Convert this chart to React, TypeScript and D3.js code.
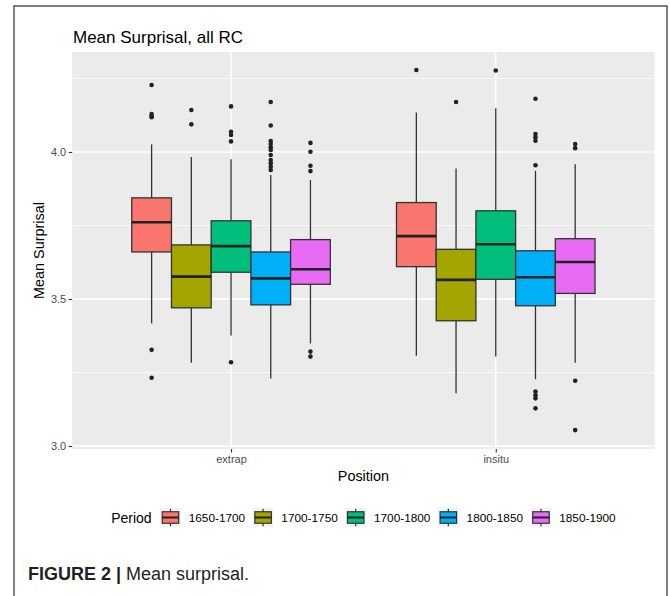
import React, { useEffect, useRef } from "react";
import * as d3 from "d3";

const positions = ["extrap", "insitu"];
const periods = ["1650-1700", "1700-1750", "1700-1800", "1800-1850", "1850-1900"];
const periodColors = ["#F8766D", "#A3A500", "#00BF7D", "#00B0F6", "#E76BF3"];

// [lower whisker, q1, median, q3, upper whisker], one row per period
const extrapBoxes = [
    [3.417, 3.660, 3.761, 3.844, 4.026],
    [3.283, 3.470, 3.576, 3.684, 3.983],
    [3.376, 3.591, 3.680, 3.766, 3.975],
    [3.230, 3.480, 3.570, 3.660, 3.922],
    [3.349, 3.550, 3.601, 3.702, 3.905]
];
const insituBoxes = [
    [3.307, 3.610, 3.714, 3.828, 4.134],
    [3.179, 3.426, 3.565, 3.669, 3.944],
    [3.304, 3.567, 3.686, 3.800, 4.149],
    [3.227, 3.477, 3.574, 3.664, 3.936],
    [3.283, 3.519, 3.626, 3.705, 3.958]
];
const extrapOutliers = [
    [4.228, 4.129, 4.122, 4.118, 3.327, 3.232],
    [4.143, 4.094],
    [4.155, 4.069, 4.058, 4.036, 3.285],
    [4.170, 4.090, 4.037, 4.027, 4.016, 4.007, 3.990, 3.973, 3.962, 3.950, 3.939],
    [4.031, 4.001, 3.953, 3.935, 3.321, 3.304]
];
const insituOutliers = [
    [4.279],
    [4.170],
    [4.277],
    [4.181, 4.061, 4.050, 4.038, 3.955, 3.185, 3.173, 3.162, 3.128],
    [4.027, 4.013, 3.222, 3.054]
];
const yTicks = [3.0, 3.5, 4.0];
const yMinorTicks = [3.25, 3.75, 4.25];

const FONT = "'Liberation Sans', Arial, sans-serif";

function App()
{
    const svgRef = useRef<SVGSVGElement>(null);

    useEffect(() =>
    {
        const svg = d3.select(svgRef.current);
        svg.selectAll("*").remove();

        const panel = {left: 72.2, right: 654.6, top: 52, bottom: 449};
        const w = panel.right - panel.left;
        const h = panel.bottom - panel.top;

        // outer figure frame
        svg.append("rect")
            .attr("x", 14).attr("y", 6)
            .attr("width", 653).attr("height", 620)
            .attr("fill", "none")
            .attr("stroke", "#555")
            .attr("stroke-width", 1.5);

        svg.append("text")
            .attr("x", 73).attr("y", 43)
            .attr("font-family", FONT)
            .attr("font-size", 17)
            .attr("fill", "#000")
            .text("Mean Surprisal, all RC");

        const g = svg.append("g").attr("transform", `translate(${panel.left}, ${panel.top})`);

        // scales
        const xScale = d3.scalePoint<string>()
            .domain(positions)
            .range([0, w])
            .padding(0.6);
        const step = xScale.step();
        const dodge = d3.scaleBand<string>()
            .domain(periods)
            .range([-0.375 * step, 0.375 * step]);
        const yScale = d3.scaleLinear()
            .domain([2.9898, 4.3401])
            .range([h, 0]);

        // panel + grid
        g.append("rect").attr("width", w).attr("height", h).attr("fill", "#EBEBEB");
        g.selectAll(".minor")
            .data(yMinorTicks)
            .enter()
            .append("line")
            .attr("x1", 0).attr("x2", w)
            .attr("y1", d => yScale(d)).attr("y2", d => yScale(d))
            .attr("stroke", "#fff").attr("stroke-width", 0.7);
        g.selectAll(".major")
            .data(yTicks)
            .enter()
            .append("line")
            .attr("x1", 0).attr("x2", w)
            .attr("y1", d => yScale(d)).attr("y2", d => yScale(d))
            .attr("stroke", "#fff").attr("stroke-width", 1.4);
        g.selectAll(".xmajor")
            .data(positions)
            .enter()
            .append("line")
            .attr("x1", d => xScale(d)!).attr("x2", d => xScale(d)!)
            .attr("y1", 0).attr("y2", h)
            .attr("stroke", "#fff").attr("stroke-width", 1.4);

        // axes
        const yAxis = g.append("g")
            .call(d3.axisLeft(yScale).tickValues(yTicks).tickFormat(d3.format(".1f")).tickSize(3.5).tickPadding(2.5));
        const xAxis = g.append("g")
            .attr("transform", `translate(0, ${h})`)
            .call(d3.axisBottom(xScale).tickSize(3.5).tickPadding(2.5));
        [yAxis, xAxis].forEach(ax =>
        {
            ax.select(".domain").remove();
            ax.selectAll("line").attr("stroke", "#333").attr("stroke-width", 1.1);
            ax.selectAll("text")
                .attr("font-family", FONT)
                .attr("font-size", 11)
                .attr("fill", "#4D4D4D");
        });

        svg.append("text")
            .attr("x", (panel.left + panel.right) / 2).attr("y", 481)
            .attr("text-anchor", "middle")
            .attr("font-family", FONT).attr("font-size", 14.4)
            .text("Position");
        svg.append("text")
            .attr("transform", `translate(44, ${(panel.top + panel.bottom) / 2}) rotate(-90)`)
            .attr("text-anchor", "middle")
            .attr("font-family", FONT).attr("font-size", 14.4)
            .text("Mean Surprisal");

        // boxes
        const boxW = dodge.bandwidth();
        const groups = [
            {pos: "extrap", boxes: extrapBoxes, outliers: extrapOutliers},
            {pos: "insitu", boxes: insituBoxes, outliers: insituOutliers}
        ];
        groups.forEach(grp =>
        {
            periods.forEach((p, i) =>
            {
                const [lo, q1, med, q3, hi] = grp.boxes[i];
                const cx = xScale(grp.pos)! + dodge(p)! + boxW / 2;
                g.append("line")
                    .attr("x1", cx).attr("x2", cx)
                    .attr("y1", yScale(hi)).attr("y2", yScale(lo))
                    .attr("stroke", "#333").attr("stroke-width", 1.3);
                g.append("rect")
                    .attr("x", cx - boxW / 2).attr("width", boxW)
                    .attr("y", yScale(q3)).attr("height", yScale(q1) - yScale(q3))
                    .attr("fill", periodColors[i])
                    .attr("stroke", "#333").attr("stroke-width", 1.3);
                g.append("line")
                    .attr("x1", cx - boxW / 2).attr("x2", cx + boxW / 2)
                    .attr("y1", yScale(med)).attr("y2", yScale(med))
                    .attr("stroke", "#222").attr("stroke-width", 2.6);
                g.selectAll(null)
                    .data(grp.outliers[i])
                    .enter()
                    .append("circle")
                    .attr("cx", cx)
                    .attr("cy", d => yScale(d))
                    .attr("r", 2.3)
                    .attr("fill", "#222");
            });
        });

        // legend
        const legendY = 517.5;
        const legend = svg.append("g");
        const title = legend.append("text")
            .attr("x", 0).attr("y", legendY + 5)
            .attr("font-family", FONT).attr("font-size", 14)
            .text("Period");
        let x = (title.node() as SVGTextElement).getComputedTextLength() + 8.6;
        const keyW = 20.5, keyH = 19.5;
        periods.forEach((p, i) =>
        {
            const k = legend.append("g").attr("transform", `translate(${x}, ${legendY - keyH / 2})`);
            k.append("rect").attr("width", keyW).attr("height", keyH).attr("fill", "#F2F2F2");
            k.append("line")
                .attr("x1", keyW / 2).attr("x2", keyW / 2)
                .attr("y1", 1).attr("y2", keyH - 1)
                .attr("stroke", "#333").attr("stroke-width", 1.2);
            k.append("rect")
                .attr("x", 2).attr("y", 4)
                .attr("width", keyW - 4).attr("height", keyH - 8)
                .attr("fill", periodColors[i])
                .attr("stroke", "#333").attr("stroke-width", 1.2);
            k.append("line")
                .attr("x1", 2).attr("x2", keyW - 2)
                .attr("y1", keyH / 2).attr("y2", keyH / 2)
                .attr("stroke", "#222").attr("stroke-width", 2);
            x += keyW + 8;
            const t = legend.append("text")
                .attr("x", x).attr("y", legendY + 4)
                .attr("font-family", FONT).attr("font-size", 11.8)
                .text(p);
            x += (t.node() as SVGTextElement).getComputedTextLength() + 7.7;
        });
        const legendW = x - 7.7;
        legend.attr("transform", `translate(${(panel.left + panel.right) / 2 - legendW / 2}, 0)`);

        // caption
        const cap = svg.append("text")
            .attr("x", 28).attr("y", 580)
            .attr("font-family", FONT).attr("font-size", 18)
            .attr("fill", "#231F20");
        cap.append("tspan").attr("font-weight", "bold").text("FIGURE 2 |");
        cap.append("tspan").text(" Mean surprisal.");
    }, []);

    return (
        <svg ref={svgRef} width={670} height={596}
            style={{position: "absolute", left: 0, top: 0, background: "#fff"}}></svg>
    );
}

export default App;
